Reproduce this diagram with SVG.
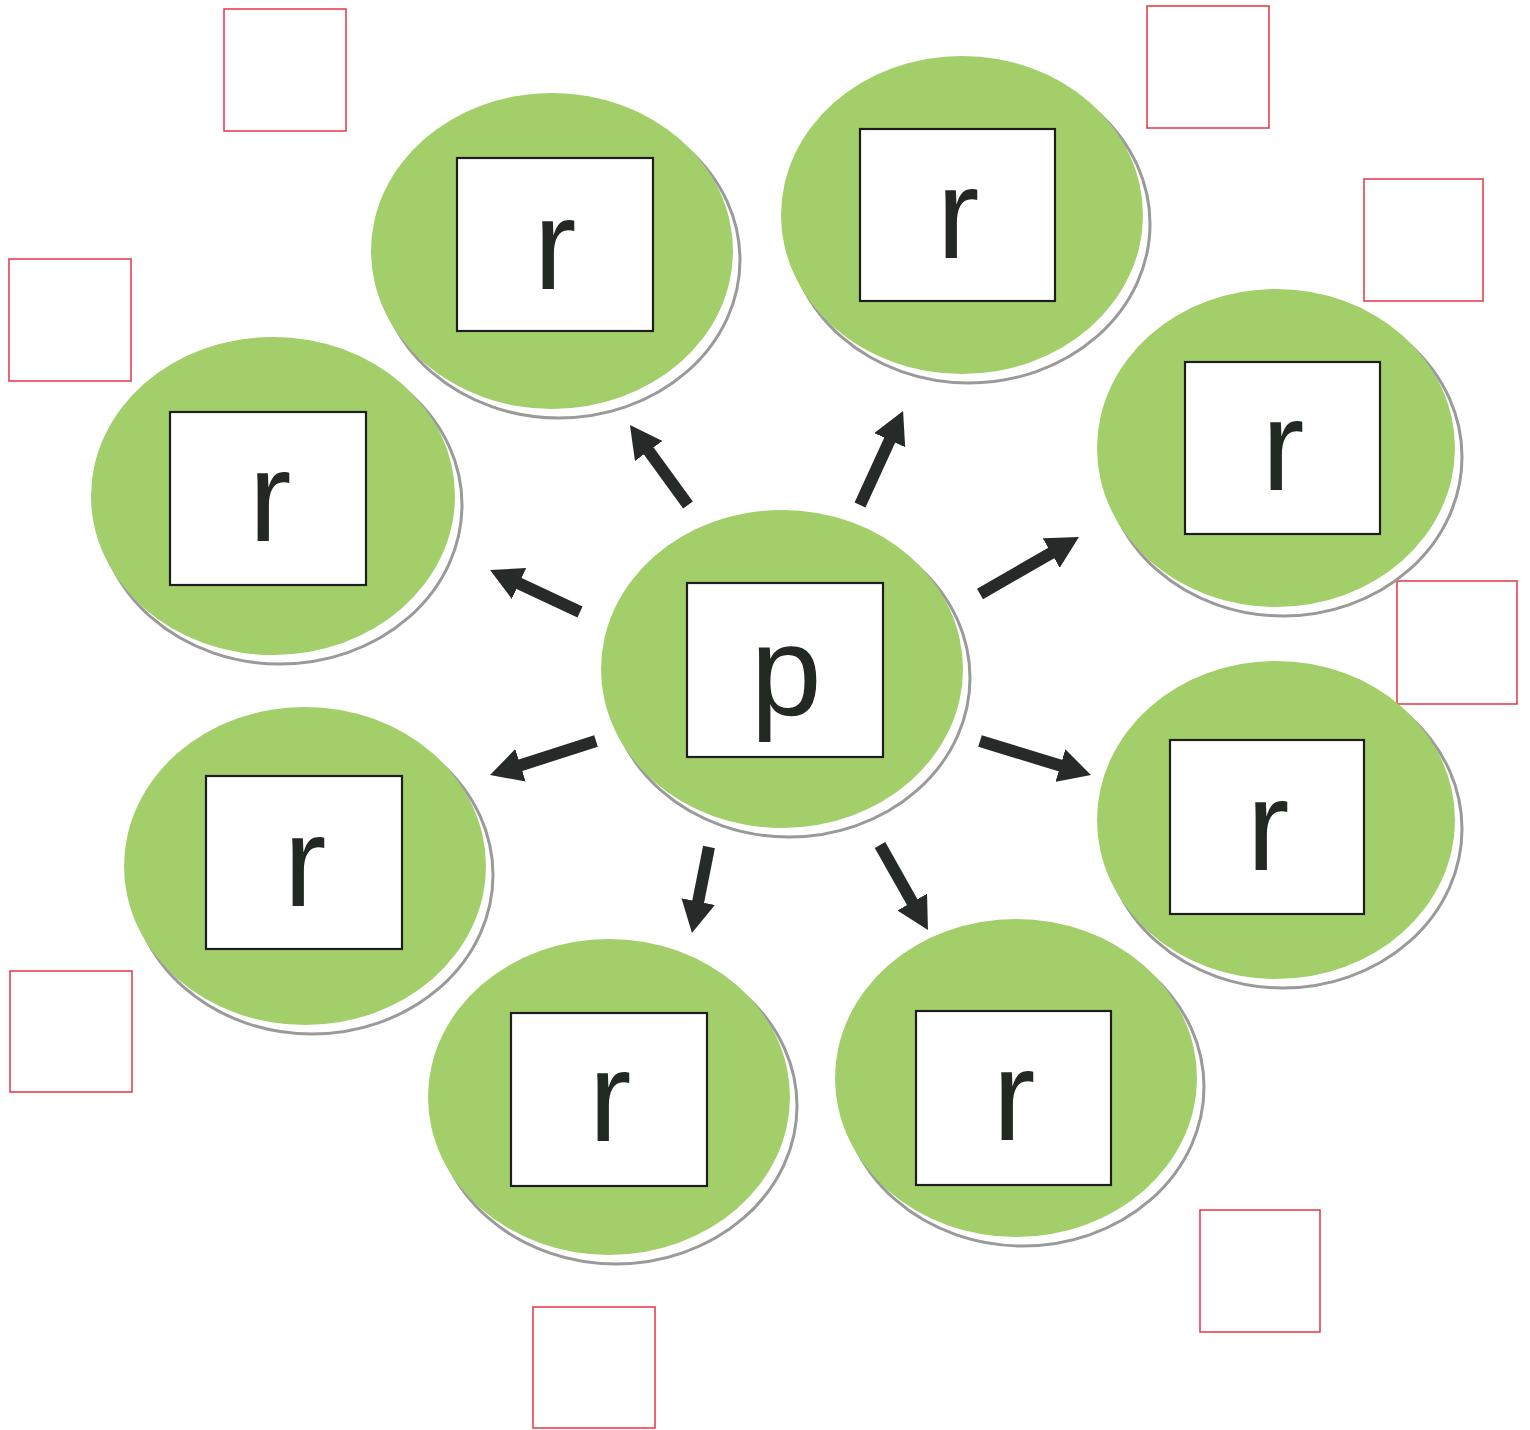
<svg xmlns="http://www.w3.org/2000/svg" width="1530" height="1430" viewBox="0 0 1530 1430">
<style>
.sh{fill:#ffffff;stroke:#9a9a9a;stroke-width:3}
.disc{fill:#a2cf6a}
.box{fill:#ffffff;stroke:#1e1e1e;stroke-width:2.2}
.lbl{font-family:"Liberation Sans",Arial,sans-serif;font-size:128px;fill:#222822;text-anchor:middle}
.red{fill:none;stroke:#e8414f;stroke-width:1.6}
.arr{stroke:#262a28;stroke-width:12;fill:none;marker-end:url(#ah)}
</style>
<defs>
<marker id="ah" markerUnits="userSpaceOnUse" markerWidth="34" markerHeight="34" refX="4" refY="17" orient="auto" viewBox="0 0 34 34">
<path d="M0,0 L32,17 L0,34 z" fill="#262a28"/>
</marker>
</defs>
<rect x="0" y="0" width="1530" height="1430" fill="#ffffff"/>
<g id="annotations">
<rect class="red" x="224" y="9" width="122" height="122"/>
<rect class="red" x="1147" y="6" width="122" height="122"/>
<rect class="red" x="1364" y="179" width="119" height="122"/>
<rect class="red" x="9" y="259" width="122" height="122"/>
<rect class="red" x="1397" y="581" width="120" height="123"/>
<rect class="red" x="10" y="971" width="122" height="121"/>
<rect class="red" x="1200" y="1210" width="120" height="122"/>
<rect class="red" x="533" y="1307" width="122" height="121"/>
</g>
<g id="connectors">
<path class="arr" d="M688,505 L646.4,447.7"/>
<path class="arr" d="M860,505 L891.4,436.5"/>
<path class="arr" d="M980,594 L1054.7,551"/>
<path class="arr" d="M580,612 L515.4,581.8"/>
<path class="arr" d="M596,741 L516.7,766.5"/>
<path class="arr" d="M980,741 L1064.2,766.8"/>
<path class="arr" d="M709,847 L697.4,905.5"/>
<path class="arr" d="M880,845 L914.2,905.6"/>
</g>
<g id="node-p">
<ellipse class="sh" cx="789" cy="678" rx="181" ry="159"/>
<ellipse class="disc" cx="782" cy="669" rx="181" ry="159"/>
<rect class="box" x="687" y="583" width="196" height="174"/>
<text class="lbl" x="786" y="715">p</text>
</g>
<g id="node-r1">
<ellipse class="sh" cx="559" cy="260" rx="181" ry="158"/>
<ellipse class="disc" cx="552" cy="251" rx="181" ry="158"/>
<rect class="box" x="457" y="158" width="196" height="173"/>
<text class="lbl" x="555" y="289">r</text>
</g>
<g id="node-r2">
<ellipse class="sh" cx="969" cy="224" rx="181" ry="159"/>
<ellipse class="disc" cx="962" cy="215" rx="181" ry="159"/>
<rect class="box" x="860" y="129" width="195" height="172"/>
<text class="lbl" x="958" y="258">r</text>
</g>
<g id="node-r3">
<ellipse class="sh" cx="1283" cy="457" rx="179" ry="159"/>
<ellipse class="disc" cx="1276" cy="448" rx="179" ry="159"/>
<rect class="box" x="1185" y="362" width="195" height="172"/>
<text class="lbl" x="1283" y="490">r</text>
</g>
<g id="node-r4">
<ellipse class="sh" cx="280" cy="505" rx="182" ry="159"/>
<ellipse class="disc" cx="273" cy="496" rx="182" ry="159"/>
<rect class="box" x="170" y="412" width="196" height="173"/>
<text class="lbl" x="270" y="541">r</text>
</g>
<g id="node-r5">
<ellipse class="sh" cx="312" cy="875" rx="181" ry="159"/>
<ellipse class="disc" cx="305" cy="866" rx="181" ry="159"/>
<rect class="box" x="206" y="776" width="196" height="173"/>
<text class="lbl" x="305" y="906">r</text>
</g>
<g id="node-r6">
<ellipse class="sh" cx="616" cy="1106" rx="181" ry="158"/>
<ellipse class="disc" cx="609" cy="1097" rx="181" ry="158"/>
<rect class="box" x="511" y="1013" width="196" height="173"/>
<text class="lbl" x="610" y="1141">r</text>
</g>
<g id="node-r7">
<ellipse class="sh" cx="1023" cy="1087" rx="181" ry="159"/>
<ellipse class="disc" cx="1016" cy="1078" rx="181" ry="159"/>
<rect class="box" x="916" y="1011" width="195" height="174"/>
<text class="lbl" x="1014" y="1140">r</text>
</g>
<g id="node-r8">
<ellipse class="sh" cx="1283" cy="829" rx="179" ry="159"/>
<ellipse class="disc" cx="1276" cy="820" rx="179" ry="159"/>
<rect class="box" x="1170" y="740" width="194" height="174"/>
<text class="lbl" x="1268" y="870">r</text>
</g>
</svg>
